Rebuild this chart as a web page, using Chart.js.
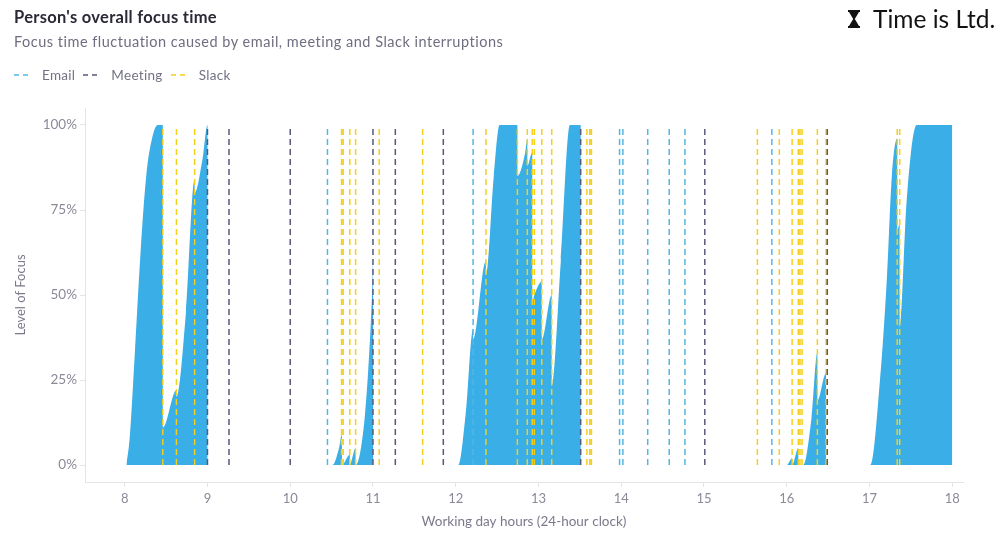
<!DOCTYPE html>
<html>
<head>
<meta charset="utf-8">
<script src="https://cdn.jsdelivr.net/npm/chart.js@4.4.1/dist/chart.umd.min.js"></script>
<style>
  html, body { margin: 0; padding: 0; background: #ffffff; }
  #wrap { position: relative; width: 1008px; height: 534px; font-family: Lato, "Noto Sans", sans-serif; overflow: hidden; }
  #chart { position: absolute; left: 0; top: 0; }
  .title { position: absolute; left: 14px; top: 7px; font-size: 16.5px; letter-spacing: 0.3px; font-weight: 700; color: #2a2a36; white-space: nowrap; }
  .subtitle { position: absolute; left: 14px; top: 33px; font-size: 14.5px; letter-spacing: 0.5px; color: #6e6e80; white-space: nowrap; }
  .legend { position: absolute; left: 14px; top: 67px; display: flex; align-items: center; font-size: 13.5px; letter-spacing: 0.3px; color: #727284; white-space: nowrap; }
  .legend .item { display: flex; align-items: center; margin-right: 8px; }
  .legend svg { margin-right: 14px; }
  .logo { position: absolute; left: 848px; top: 4px; display: flex; align-items: center; color: #121212; font-size: 24.5px; font-weight: 400; white-space: nowrap; }
  .logo svg { margin-right: 13px; }
</style>
</head>
<body>
<div id="wrap">
  <canvas id="chart" width="1008" height="534"></canvas>
  <div class="title">Person's overall focus time</div>
  <div class="subtitle">Focus time fluctuation caused by email, meeting and Slack interruptions</div>
  <div class="legend" id="legend"></div>
  <div class="logo">
    <svg width="12" height="18" viewBox="0 0 12 18"><path d="M0 0H12V2H11L6.8 9L11 16H12V18H0V16H1L5.2 9L1 2H0Z" fill="#121212"/></svg>
    <span>Time is Ltd.</span>
  </div>
</div>
<script>
// Focus level over the working day (hour of day, percent of focus)
const focusHours = [
  8.02, 8.06, 8.12, 8.19, 8.26, 8.33, 8.40, 8.46, 8.46, 8.625, 8.625, 8.74, 8.845, 8.845, 8.94, 9.0, 9.0,
  10.51, 10.59, 10.625, 10.625, 10.72, 10.72, 10.79, 10.79, 10.90, 10.97, 10.995, 11.0, 11.0,
  12.03, 12.12, 12.21, 12.21, 12.365, 12.365, 12.46, 12.53, 12.745, 12.745, 12.84, 12.865, 12.865,
  12.925, 12.925, 12.95, 13.04, 13.04, 13.16, 13.16, 13.27, 13.38, 13.51, 13.51,
  16.0, 16.065, 16.065, 16.14, 16.14, 16.2, 16.3, 16.37, 16.37, 16.475, 16.475,
  17.01, 17.13, 17.21, 17.27, 17.335, 17.335, 17.365, 17.365, 17.45, 17.57, 18.0, 18.0
];
const focusLevels = [
  0, 8, 32, 62, 85, 96, 100, 100, 11, 22, 20, 45, 84, 80, 90, 100, 0,
  0, 5, 9, 0, 3, 0, 5, 0, 14, 40, 55, 60, 0,
  0, 15, 40, 37, 60, 56, 85, 100, 100, 85, 92, 96, 88,
  92, 48, 50, 54, 37, 50, 23, 60, 100, 100, 0,
  0, 2, 0, 5, 0, 0, 14, 33, 19, 27, 0,
  0, 26, 55, 85, 96, 69, 71, 40, 78, 100, 100, 0
];

// Interruption times (hour of day)
const emailTimes = [10.45, 12.21, 13.98, 14.02, 14.32, 14.58, 14.77, 15.82];
const meetingTimes = [9.0, 9.26, 10.0, 11.0, 11.27, 11.85, 13.51, 15.01, 16.49];
const slackTimes = [
  8.46, 8.625, 8.845, 10.62, 10.64, 10.72, 10.79, 11.075, 11.6, 12.365, 12.745, 12.865,
  12.925, 12.95, 13.04, 13.16, 13.585, 13.62, 13.64, 15.645, 15.91, 16.065, 16.14, 16.16,
  16.185, 16.37, 16.475, 17.335, 17.365
];

const hourTicks = [8, 9, 10, 11, 12, 13, 14, 15, 16, 17, 18];
const levelTicks = [0, 25, 50, 75, 100];

const interruptionSeries = [
  { name: 'Email', times: emailTimes, color: '#52b6e2' },
  { name: 'Meeting', times: meetingTimes, color: '#55597a' },
  { name: 'Slack', times: slackTimes, color: '#f4cf1c' }
];

// Each interruption is a vertical dashed segment from 0% to 100%
function verticalMarks(times) {
  const pts = [];
  times.forEach(t => {
    pts.push({ x: t, y: 0 }, { x: t, y: 100 }, { x: t, y: null });
  });
  return pts;
}

// HTML legend for the interruption types
const legendEl = document.getElementById('legend');
interruptionSeries.forEach(s => {
  const item = document.createElement('div');
  item.className = 'item';
  item.innerHTML = '<svg width="14" height="4"><line x1="0" y1="2" x2="14" y2="2" stroke="' + s.color +
    '" stroke-width="1.5" stroke-dasharray="5 4"/></svg><span>' + s.name + '</span>';
  legendEl.appendChild(item);
});

Chart.defaults.font.family = 'Lato, "Noto Sans", sans-serif';

const datasets = interruptionSeries.map(s => ({
  label: s.name,
  data: verticalMarks(s.times),
  borderColor: s.color,
  borderWidth: 1.5,
  borderDash: [6, 4],
  pointRadius: 0,
  fill: false,
  spanGaps: false,
  tension: 0,
  order: 0
}));

datasets.push({
  label: 'Focus',
  data: focusHours.map((h, i) => ({ x: h, y: focusLevels[i] })),
  borderWidth: 0,
  borderColor: 'rgba(0,0,0,0)',
  backgroundColor: '#3aaee6',
  fill: 'origin',
  pointRadius: 0,
  cubicInterpolationMode: 'monotone',
  order: 1
});

new Chart(document.getElementById('chart'), {
  type: 'line',
  data: { datasets },
  options: {
    responsive: false,
    animation: false,
    layout: { padding: { top: 108, right: 45, bottom: 0, left: 0 } },
    plugins: { legend: { display: false }, tooltip: { enabled: false } },
    scales: {
      x: {
        type: 'linear',
        min: 7.52,
        max: 18.13,
        afterBuildTicks: s => { s.ticks = hourTicks.map(v => ({ value: v })); },
        afterFit: s => { s.height = 52; },
        ticks: { color: '#8a8a98', font: { size: 13 }, padding: 4, maxRotation: 0, autoSkip: false },
        grid: { drawOnChartArea: false, color: '#e4e4e8', tickLength: 5 },
        border: { color: '#e4e4e8' },
        title: { display: true, text: 'Working day hours (24-hour clock)', color: '#7a7a8c', font: { size: 13.5 }, padding: { top: 2, bottom: 4 } }
      },
      y: {
        min: -5,
        max: 105,
        afterBuildTicks: s => { s.ticks = levelTicks.map(v => ({ value: v })); },
        afterFit: s => { s.width = 85; },
        ticks: { color: '#8a8a98', font: { size: 13.5 }, padding: 3, callback: v => v + '%' },
        grid: { drawOnChartArea: false, color: '#e4e4e8', tickLength: 5 },
        border: { color: '#e4e4e8' },
        title: { display: true, text: 'Level of Focus', color: '#7a7a8c', font: { size: 13 }, padding: { top: 13, bottom: 0 } }
      }
    }
  }
});
</script>
</body>
</html>
